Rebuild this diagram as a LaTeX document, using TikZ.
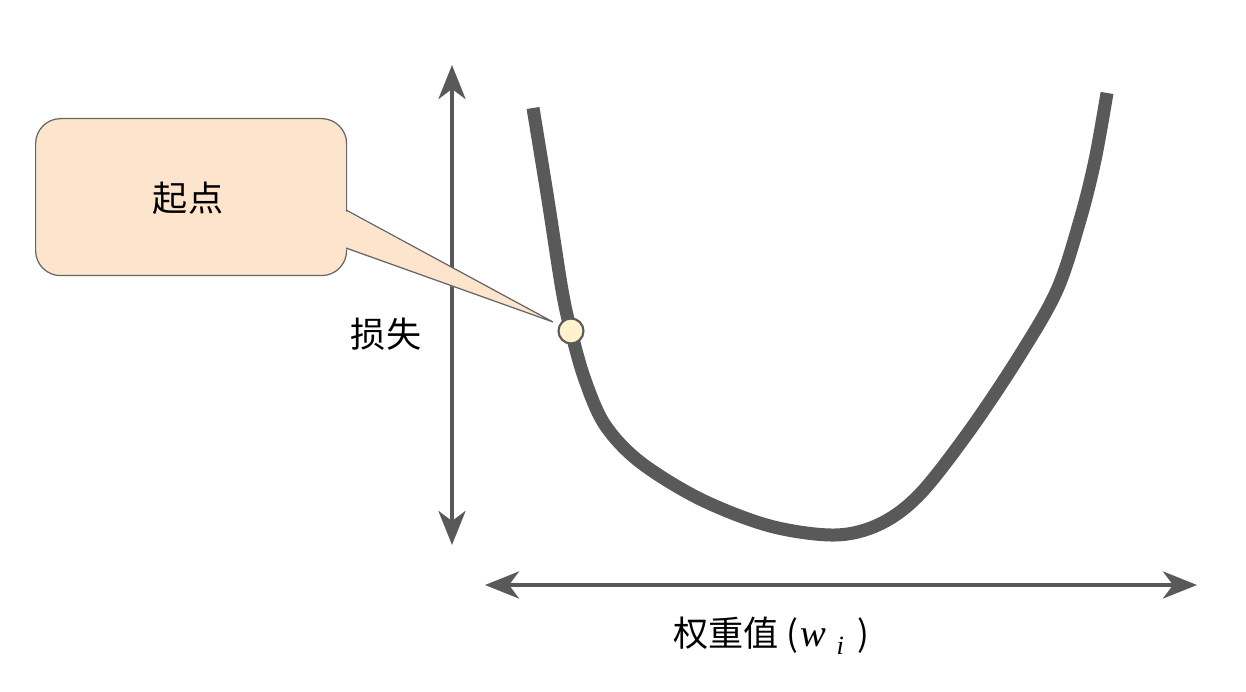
\documentclass[tikz,border=0pt]{standalone}
\usepackage{fontspec}
\newfontfamily\cjk{Noto Sans CJK SC}
\newfontfamily\tms{Liberation Serif}
\usetikzlibrary{arrows.meta}
\definecolor{axisgray}{HTML}{595959}
\definecolor{peach}{HTML}{FCE4CD}
\definecolor{boxline}{HTML}{666666}
\definecolor{dotfill}{HTML}{FFF2CC}
\begin{document}
\begin{tikzpicture}[x=0.02cm,y=-0.02cm,
  axis/.style={draw=axisgray,line width=0.09cm,
    {Stealth[length=0.68cm,width=0.54cm,inset=0.2cm]}-{Stealth[length=0.68cm,width=0.54cm,inset=0.2cm]}},
  curve/.style={draw=axisgray,line width=0.26cm},
  lbl/.style={font=\cjk\fontsize{20pt}{24pt}\selectfont,text=black,inner sep=0pt},
  callout/.style={draw=boxline,fill=peach,line width=0.7pt,rounded corners=0.5cm}]
\useasboundingbox (0,0) rectangle (1246,692);
% axes
\coordinate (ytop) at (452,65);
\coordinate (ybot) at (452,545);
\coordinate (xl) at (485,585);
\coordinate (xr) at (1197,585);
\draw[axis] (ybot) -- (ytop);
\draw[axis] (xl) -- (xr);
% curve
\draw[curve,line cap=butt] plot[smooth,tension=0.55] coordinates {
 (533,108) (548,200) (562,290) (571,331) (585,380) (605,425) (640,462)
 (700,499) (770,526) (835,535) (880,524) (920,494) (970,430) (1020,355)
 (1057,290) (1080,220) (1095,160) (1107,93)};
% callout box
\node[callout,minimum width=311*0.02cm,minimum height=157*0.02cm,anchor=north west] (box) at (35,118) {};
\coordinate (pa) at (346,210);
\coordinate (pb) at (346,248);
\coordinate (tip) at (553,322);
\fill[peach] ([xshift=-1.5pt]pa) -- (tip) -- ([xshift=-1.5pt]pb) -- cycle;
\draw[boxline,line width=0.7pt,line join=miter] (pa) -- (tip) -- (pb);
\node[lbl] (start) at (188,198) {起点};
% start point
\node[circle,draw=axisgray,fill=dotfill,line width=1.2pt,minimum size=0.5cm,inner sep=0pt] (dot) at (571,331) {};
% labels
\node[lbl] (loss) at (386,334) {损失};
\node[lbl,anchor=west] (weight) at (673,636) {权重值 (\hspace{1pt}{\tms\itshape\fontsize{22pt}{24pt}\selectfont w}\hspace{6pt}\raisebox{-0.22em}{\tms\itshape\fontsize{15pt}{18pt}\selectfont i}\hspace{8pt})};
\end{tikzpicture}
\end{document}
